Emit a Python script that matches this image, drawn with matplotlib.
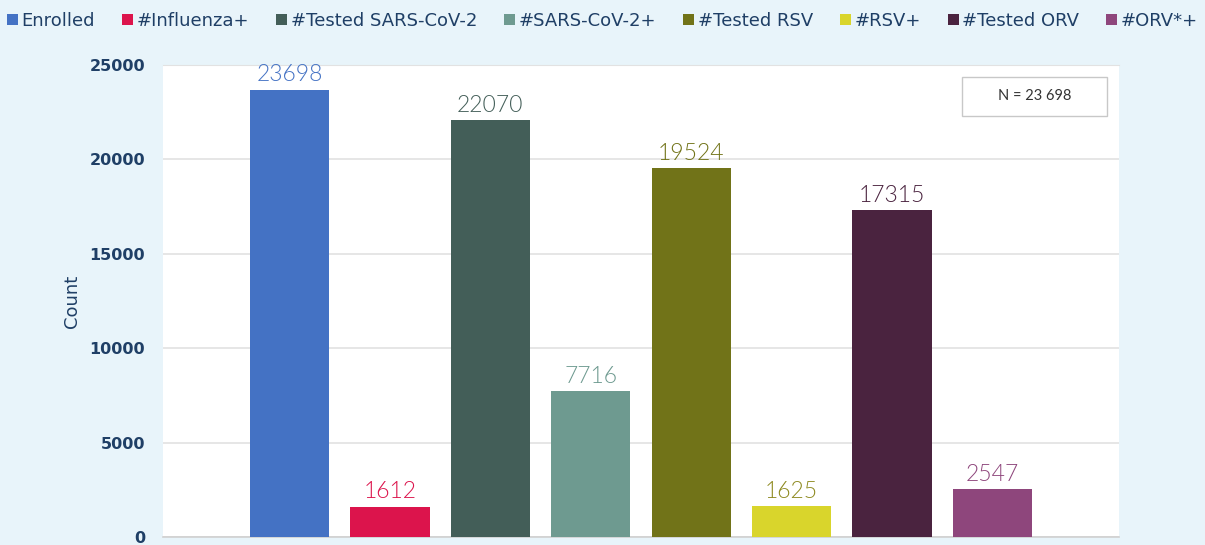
import matplotlib
matplotlib.use('Agg')
import matplotlib.pyplot as plt
from matplotlib.patches import Rectangle, Patch

categories = ['Enrolled', '#Influenza+', '#Tested SARS-CoV-2', '#SARS-CoV-2+',
              '#Tested RSV', '#RSV+', '#Tested ORV', '#ORV*+']
counts = [23698, 1612, 22070, 7716, 19524, 1625, 17315, 2547]
colors = ['#4472C4', '#DC144C', '#435E58', '#6E9A90',
          '#717318', '#D9D52C', '#4A233F', '#8E467C']
label_colors = ['#4472C4', '#DC144C', '#435E58', '#6E9A90',
                '#717318', '#8E8A20', '#4A233F', '#8E467C']
yticks = [0, 5000, 10000, 15000, 20000, 25000]
n_text = 'N = 23 698'

navy = '#1F3F66'
bg = '#E8F4FA'

plt.rcParams['font.family'] = ['Lato', 'DejaVu Sans']

fig = plt.figure(figsize=(12.05, 5.45), dpi=100, facecolor=bg)
ax = fig.add_axes([0.1353, 0.0147, 0.7933, 0.866])
ax.set_facecolor('white')

x = list(range(len(categories)))
ax.bar(x, counts, width=0.79, color=colors, zorder=3)

for i, v in enumerate(counts):
    ax.annotate(str(v), (x[i], v), xytext=(0, 3), textcoords='offset points',
                ha='center', va='bottom', fontsize=16.5, fontweight=300,
                color=label_colors[i], zorder=4)

ax.set_xlim(-1.26, 8.26)
ax.set_ylim(0, 25000)
ax.set_yticks(yticks)
ax.set_yticklabels([str(t) for t in yticks], fontsize=11.5, fontweight='bold',
                   color=navy, family='DejaVu Sans')
ax.tick_params(axis='y', length=0, pad=13)
ax.set_xticks([])
ax.yaxis.grid(True, color='#E2E2E2', linewidth=1.2, zorder=0)
for s in ['left', 'right']:
    ax.spines[s].set_visible(False)
ax.spines['top'].set_color('#E2E2E2')
ax.spines['bottom'].set_color('#D0D0D0')
ax.spines['bottom'].set_linewidth(1.2)

ax.set_ylabel('Count', fontsize=13, color=navy, labelpad=6, family='DejaVu Sans')

# N box
ax.add_patch(Rectangle((0.836, 0.892), 0.152, 0.083, transform=ax.transAxes,
                       facecolor='white', edgecolor='#C8C8C8', linewidth=1, zorder=5))
ax.text(0.912, 0.9335, n_text, transform=ax.transAxes, ha='center', va='center',
        fontsize=10.5, color='#333333', zorder=6)

handles = [Patch(facecolor=c) for c in colors]
fig.legend(handles, categories, loc='upper center', bbox_to_anchor=(0.5, 1.008),
           ncol=8, frameon=False, handlelength=0.6, handleheight=0.6,
           handletextpad=0.2, columnspacing=1.5, labelcolor=navy,
           prop={'family': 'DejaVu Sans', 'size': 13})

fig.savefig('out.png', dpi=100, facecolor=bg)
